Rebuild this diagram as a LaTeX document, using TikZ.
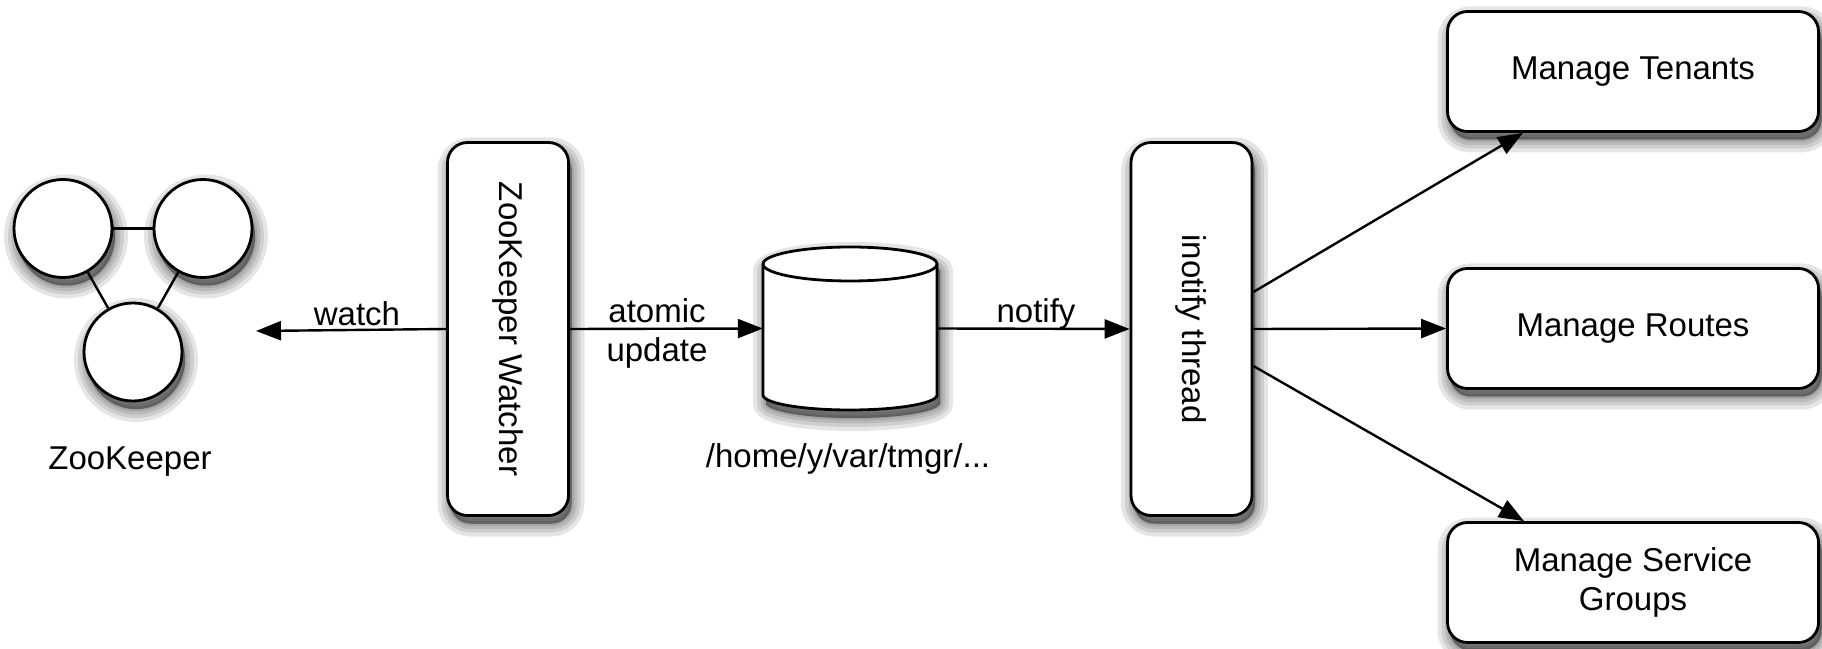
\documentclass[tikz,border=0pt]{standalone}
\usepackage{fontspec}
\setmainfont{Liberation Sans}
\usetikzlibrary{arrows.meta}
\begin{document}
\begin{tikzpicture}[x=1pt,y=1pt,
  every node/.style={font=\fontsize{33}{39}\selectfont},
  shl/.style={preaction={draw=black,fill=black,line width=#1,opacity=0.1,
      transform canvas={xshift=3pt,yshift=-8pt}}},
  shad/.style={shl=26pt,shl=18pt,shl=11pt,shl=5pt,shl=1pt},
  zk/.style={circle,draw,line width=2.8pt,fill=white,minimum size=98pt,inner sep=0pt,shad},
  vbox/.style={draw,line width=2.8pt,rounded corners=20pt,fill=white,minimum width=121pt,minimum height=373pt,inner sep=0pt,shad},
  mbox/.style={draw,line width=2.8pt,rounded corners=20pt,fill=white,minimum width=371pt,minimum height=120pt,align=center,inner sep=0pt,shad},
  arr/.style={line width=2.4pt,-{Triangle[length=25pt,width=19pt]}},
  conn/.style={line width=2.4pt},
  cylline/.style={line width=2.8pt}]
\useasboundingbox (0,0) rectangle (1822,648);

% ZooKeeper ensemble
\node[zk] (z1) at (63,419.5) {};
\node[zk] (z2) at (203,419.5) {};
\node[zk] (z3) at (133,296) {};
\draw[conn] (z1) -- (z2);
\draw[conn] (z1) -- (z3);
\draw[conn] (z2) -- (z3);
\node[anchor=base] (zklabel) at (130,178) {ZooKeeper};

% Watcher
\node[vbox,label={[rotate=-90]center:ZooKeeper Watcher}] (watcher) at (508,319) {};

% File store (cylinder)
\node[minimum width=174pt,minimum height=163pt,inner sep=0pt] (store) at (850,319.5) {};
\path[shad,fill=white] (763,384) -- (763,253) arc[start angle=180,end angle=360,x radius=87,y radius=15]
  -- (937,384) arc[start angle=0,end angle=180,x radius=87,y radius=17] -- cycle;
\draw[cylline] (763,384) -- (763,253) arc[start angle=180,end angle=360,x radius=87,y radius=15]
  -- (937,384) arc[start angle=0,end angle=180,x radius=87,y radius=17] -- cycle;
\draw[cylline] (763,384) arc[start angle=180,end angle=360,x radius=87,y radius=17];
\node[anchor=base] (pathlabel) at (848,180) {/home/y/var/tmgr/...};

% inotify thread
\node[vbox,label={[rotate=-90]center:inotify thread}] (inotify) at (1191.5,319) {};

% Managers
\node[mbox] (tenants) at (1633,576.5) {Manage Tenants};
\node[mbox] (routes) at (1633,319.5) {Manage Routes};
\node[mbox] (groups) at (1633,65.5) {Manage Service\\Groups};

% Connectors
\coordinate (zkin) at (256,317);
\draw[arr] (watcher.west) -- (zkin);
\node[anchor=base] (watchlbl) at (357,322) {watch};

\draw[arr] (watcher.east) -- (store.west);
\node[align=center] (atomiclbl) at (657,315) {atomic\\update};

\draw[arr] (store.east) -- (inotify.west);
\node[anchor=base] (notifylbl) at (1036,325) {notify};

\draw[arr] ([yshift=37pt]inotify.east) -- ([xshift=-110pt]tenants.south);
\draw[arr] (inotify.east) -- (routes.west);
\draw[arr] ([yshift=-37pt]inotify.east) -- ([xshift=-109pt]groups.north);
\end{tikzpicture}
\end{document}
